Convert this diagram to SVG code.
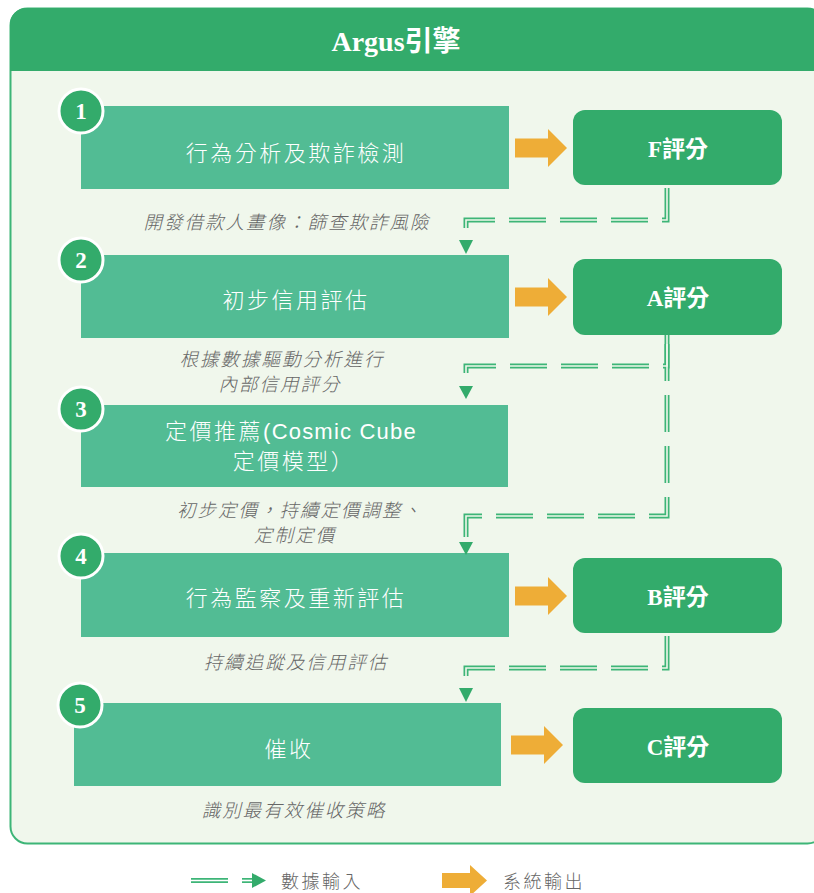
<svg xmlns="http://www.w3.org/2000/svg" width="814" height="893" viewBox="0 0 814 893">
<defs>
<style>
.step{fill:#52BC94}
.score{fill:#33AB6B}
.badge{fill:#33AB6B;stroke:#ffffff;stroke-width:3}
.num{font-family:"Liberation Serif",serif;font-weight:bold;font-size:23px;fill:#fff;text-anchor:middle}
.stxt{font-family:"Noto Sans CJK TC","Liberation Sans",sans-serif;font-weight:300;font-size:22px;fill:#fff;text-anchor:middle;letter-spacing:2.5px}
.sc{font-family:"Liberation Serif","Noto Sans CJK TC",serif;font-weight:bold;font-size:23px;fill:#fff;text-anchor:middle}
.note{font-family:"Noto Sans CJK TC",sans-serif;font-weight:300;font-style:italic;font-size:18.5px;fill:#666;text-anchor:middle;letter-spacing:2px}
.leg{font-family:"Noto Sans CJK TC",sans-serif;font-weight:300;font-size:18px;fill:#666;letter-spacing:2.5px}
.orange{fill:#EEAD37}
.dl{fill:none;stroke:#3DB577;stroke-width:5;stroke-dasharray:37 14;stroke-linejoin:miter}
.dli{fill:none;stroke:#F0F7EC;stroke-width:1.6;stroke-dasharray:37 14;stroke-linejoin:miter}
.tri{fill:#33AB6B}
</style>
<path id="oarrow" d="M0,-9.5 H33 V-19 L52,0 L33,19 V9.5 H0 Z"/>
</defs>

<g id="container">
<rect x="10.5" y="8.5" width="814" height="835" rx="17" fill="#F0F7EC" stroke="#3DB577" stroke-width="2"/>
<path d="M10,71 V24 A16,16 0 0 1 26,8 H808 A16,16 0 0 1 824,24 V71 Z" fill="#33AB6B"/>
<text x="396" y="51" font-family="'Liberation Serif','Noto Sans CJK TC',serif" font-weight="bold" font-size="28" fill="#fff" text-anchor="middle">Argus引擎</text>
</g>

<g id="step1">
<rect class="step" x="81" y="106" width="428" height="83"/>
<text class="stxt" x="296" y="161">行為分析及欺詐檢測</text>
<circle class="badge" cx="81" cy="111" r="22"/>
<text class="num" x="81" y="119">1</text>
<text class="note" x="287" y="229">開發借款人畫像：篩查欺詐風險</text>
</g>

<g id="step2">
<rect class="step" x="81" y="255" width="428" height="83"/>
<text class="stxt" x="296" y="308">初步信用評估</text>
<circle class="badge" cx="81" cy="260" r="22"/>
<text class="num" x="81" y="268">2</text>
<text class="note" x="282" y="366">根據數據驅動分析進行</text>
<text class="note" x="280" y="391">內部信用評分</text>
</g>

<g id="step3">
<rect class="step" x="81" y="405" width="427" height="82"/>
<text class="stxt" x="291" y="439"><tspan>定價推薦</tspan><tspan font-family="'Liberation Sans',sans-serif" font-weight="400" letter-spacing="1.2">(Cosmic Cube</tspan></text>
<text class="stxt" x="294" y="469">定價模型）</text>
<circle class="badge" cx="81" cy="409" r="22"/>
<text class="num" x="81" y="417">3</text>
<text class="note" x="300" y="517">初步定價，持續定價調整、</text>
<text class="note" x="295" y="542">定制定價</text>
</g>

<g id="step4">
<rect class="step" x="81" y="553" width="428" height="84"/>
<text class="stxt" x="296" y="606">行為監察及重新評估</text>
<circle class="badge" cx="81" cy="556" r="22"/>
<text class="num" x="81" y="564">4</text>
<text class="note" x="296" y="669">持續追蹤及信用評估</text>
</g>

<g id="step5">
<rect class="step" x="74" y="703" width="427" height="83"/>
<text class="stxt" x="289" y="757">催收</text>
<circle class="badge" cx="80" cy="705" r="22"/>
<text class="num" x="80" y="713">5</text>
<text class="note" x="294" y="817">識別最有效催收策略</text>
</g>

<g id="scoreF">
<rect class="score" x="573" y="110" width="209" height="75" rx="12"/>
<text class="sc" x="678" y="157">F評分</text>
</g>
<g id="scoreA">
<rect class="score" x="573" y="259" width="209" height="76" rx="12"/>
<text class="sc" x="678" y="306">A評分</text>
</g>
<g id="scoreB">
<rect class="score" x="573" y="558" width="209" height="75" rx="12"/>
<text class="sc" x="678" y="605">B評分</text>
</g>
<g id="scoreC">
<rect class="score" x="573" y="708" width="209" height="75" rx="12"/>
<text class="sc" x="678" y="755">C評分</text>
</g>

<g id="connectors">
<use href="#oarrow" class="orange" x="515" y="148"/>
<use href="#oarrow" class="orange" x="515" y="297"/>
<use href="#oarrow" class="orange" x="515" y="596"/>
<use href="#oarrow" class="orange" x="511" y="745"/>
<path class="dl" d="M466,228 V220 H667 V185"/>
<path class="dl" d="M466,373 V366 H667 V335"/>
<path class="dl" d="M466,537 V516 H667 V335"/>
<path class="dl" d="M466,676 V668 H667 V633"/>
<path class="dli" d="M466,228 V220 H667 V185"/>
<path class="dli" d="M466,373 V366 H667 V335"/>
<path class="dli" d="M466,537 V516 H667 V335"/>
<path class="dli" d="M466,676 V668 H667 V633"/>
<polygon class="tri" points="459,240 473,240 466,254"/>
<polygon class="tri" points="459,386 473,386 466,399"/>
<polygon class="tri" points="459,542 473,542 466,555"/>
<polygon class="tri" points="459,688 473,688 466,702"/>
</g>

<g id="legend">
<line x1="191" y1="880.5" x2="228" y2="880.5" stroke="#3DB577" stroke-width="5"/>
<line x1="191" y1="880.5" x2="228" y2="880.5" stroke="#ffffff" stroke-width="1.6"/>
<line x1="242" y1="880.5" x2="254" y2="880.5" stroke="#3DB577" stroke-width="5"/>
<line x1="242" y1="880.5" x2="254" y2="880.5" stroke="#ffffff" stroke-width="1.6"/>
<polygon class="tri" points="252,873 266,880.5 252,888"/>
<text class="leg" x="281" y="888">數據輸入</text>
<path class="orange" d="M442,873 H470 V865 L487,880.5 L470,896 V888 H442 Z"/>
<text class="leg" x="503" y="888">系統輸出</text>
</g>
</svg>
